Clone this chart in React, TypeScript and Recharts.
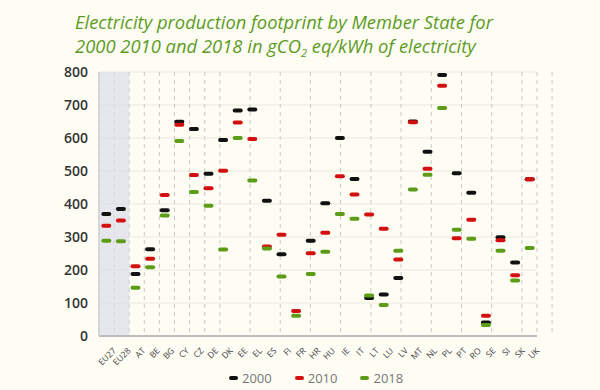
import React from 'react';
import {
  ComposedChart,
  Line,
  XAxis,
  YAxis,
  CartesianGrid,
  ReferenceArea,
} from 'recharts';

const categories = ['EU27','EU28','AT','BE','BG','CY','CZ','DE','DK','EE','EL','ES','FI','FR','HR','HU','IE','IT','LT','LU','LV','MT','NL','PL','PT','RO','SE','SI','SK','UK'];
const v2000 = [370,385,188,263,381,649,627,492,594,683,686,410,248,null,289,402,600,476,115,126,176,650,558,791,493,434,41,299,223,475];
const v2010 = [334,350,211,234,427,640,488,448,501,647,597,271,307,76,251,313,484,429,368,325,232,648,507,758,296,352,61,290,184,475];
const v2018 = [289,287,146,208,365,591,436,395,262,600,471,265,180,61,188,255,370,355,123,94,258,444,489,691,322,295,33,258,168,267];
const yTicks = [0,100,200,300,400,500,600,700,800];
const euGroup = ['EU27','EU28'];

const data = categories.map((c, i) => ({ name: c, y2000: v2000[i], y2010: v2010[i], y2018: v2018[i] }));
const boundaryTicks = categories.map((_, i) => i).concat([categories.length]);

const series = [
  { key: 'y2000', label: '2000', color: '#111111' },
  { key: 'y2010', label: '2010', color: '#d40f0f' },
  { key: 'y2018', label: '2018', color: '#5c9c17' },
];

const makeDot = (color: string) => (props: any) => {
  const { cx, cy, index, value } = props;
  if (cx == null || cy == null || value == null || isNaN(cy)) return <g key={`e${index}`} />;
  return <rect key={`d${index}`} x={cx - 5} y={cy - 2} width={10} height={4} rx={2} ry={2} fill={color} />;
};

export default function App() {
  return (
    <div style={{ position: 'absolute', left: 0, top: 0, width: 600, height: 390, background: '#fdfdf4', overflow: 'hidden' }}>
      <div
        style={{
          position: 'absolute',
          left: 75,
          top: 10,
          fontFamily: 'Open Sans',
          fontStyle: 'italic',
          fontSize: 18.4,
          lineHeight: '24px',
          color: '#5e9b1f',
          whiteSpace: 'nowrap',
        }}
      >
        <div>Electricity production footprint by Member State for</div>
        <div>
          2000 2010 and 2018 in gCO<sub style={{ fontSize: 11, verticalAlign: '-4px' }}>2</sub> eq/kWh of electricity
        </div>
      </div>
      <div style={{ position: 'absolute', left: 0, top: 0 }}>
        <ComposedChart width={600} height={390} data={data} margin={{ top: 72, right: 63, bottom: 20, left: 0 }}>
          <XAxis xAxisId="g" type="number" domain={[0, categories.length]} ticks={boundaryTicks} hide allowDataOverflow />
          <CartesianGrid vertical={false} stroke="#e9e9e0" strokeWidth={1} />
          <CartesianGrid xAxisId="g" horizontal={false} stroke="#c9c9c9" strokeDasharray="4 4" />
          <ReferenceArea
            xAxisId="g"
            x1={0}
            x2={euGroup.length}
            y1={0}
            y2={800}
            fill="#dcdcea"
            fillOpacity={0.7}
            stroke="none"
          />
          <XAxis
            dataKey="name"
            type="category"
            scale="band"
            interval={0}
            angle={-45}
            textAnchor="end"
            tick={{ fontSize: 8.5, fill: '#444', fontFamily: 'Open Sans', angle: -45, textAnchor: 'end', dx: 6 }}
            tickLine={false}
            tickSize={0}
            tickMargin={11}
            height={34}
            axisLine={{ stroke: '#bcbcbc', strokeWidth: 2 }}
          />
          <YAxis
            domain={[0, 800]}
            ticks={yTicks}
            width={99}
            tickLine={false}
            tickSize={0}
            tickMargin={11}
            axisLine={{ stroke: '#cfcfcf', strokeWidth: 1.5 }}
            tick={{ fontSize: 14, fill: '#333', fontFamily: 'Open Sans', fontWeight: 600 }}
          />
          {series.map((s) => (
            <Line
              key={s.key}
              dataKey={s.key}
              stroke="none"
              strokeWidth={0}
              dot={makeDot(s.color)}
              activeDot={false}
              isAnimationActive={false}
              connectNulls={false}
            />
          ))}
        </ComposedChart>
      </div>
      <div
        style={{
          position: 'absolute',
          left: 229,
          top: 369,
          display: 'flex',
          alignItems: 'center',
          fontFamily: 'Open Sans',
          fontSize: 13,
          color: '#777',
        }}
      >
        {series.map((s) => (
          <div key={s.key} style={{ display: 'flex', alignItems: 'center', marginRight: 23 }}>
            <div style={{ width: 9, height: 4, borderRadius: 2, background: s.color, marginRight: 4 }} />
            <span>{s.label}</span>
          </div>
        ))}
      </div>
    </div>
  );
}
